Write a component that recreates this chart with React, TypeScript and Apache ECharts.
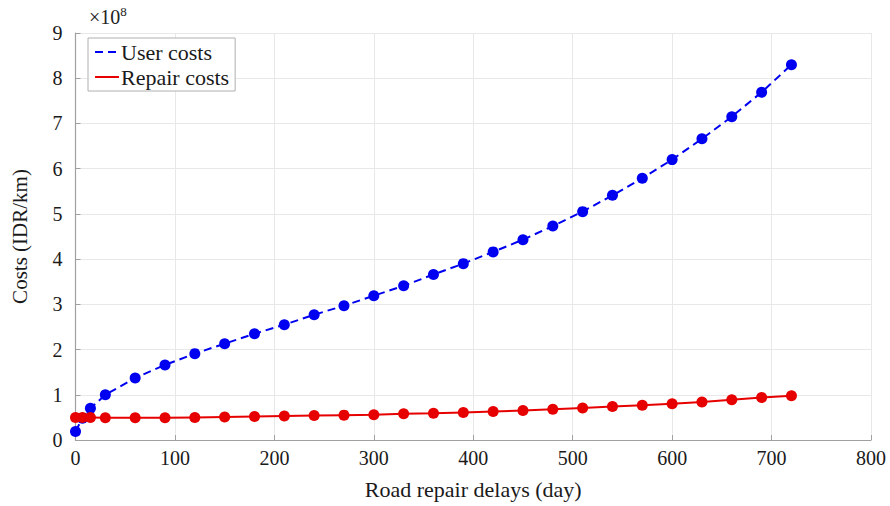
import React, { useEffect, useRef } from "react";
import * as echarts from "echarts";

const delays = [0, 7, 15, 30, 60, 90, 120, 150, 180, 210, 240, 270, 300, 330, 360, 390, 420, 450, 480, 510, 540, 570, 600, 630, 660, 690, 720];
const userCosts = [0.19, 0.48, 0.7, 1.0, 1.37, 1.66, 1.91, 2.13, 2.35, 2.55, 2.77, 2.97, 3.19, 3.41, 3.66, 3.9, 4.16, 4.43, 4.73, 5.05, 5.41, 5.79, 6.2, 6.66, 7.15, 7.69, 8.3];
const repairCosts = [0.5, 0.5, 0.5, 0.49, 0.49, 0.49, 0.5, 0.51, 0.52, 0.53, 0.54, 0.55, 0.56, 0.58, 0.59, 0.61, 0.63, 0.65, 0.68, 0.71, 0.74, 0.77, 0.8, 0.84, 0.89, 0.94, 0.98];
const seriesNames = ["User costs", "Repair costs"];
const xTitle = "Road repair delays (day)";
const yTitle = "Costs (IDR/km)";

const FONT = "Liberation Serif";

export default function App() {
  const ref = useRef<HTMLDivElement>(null);
  useEffect(() => {
    if (!ref.current) return;
    const chart = echarts.init(ref.current, undefined, { renderer: "svg" });
    chart.setOption({
      animation: false,
      backgroundColor: "#ffffff",
      textStyle: { fontFamily: FONT },
      grid: { left: 75.5, right: 19, top: 33, bottom: 66 },
      legend: {
        orient: "vertical",
        left: 88,
        top: 38,
        backgroundColor: "#ffffff",
        borderColor: "#b0b0b0",
        borderWidth: 1,
        borderRadius: 0,
        padding: [2, 6, 2, 6],
        itemGap: 1,
        itemWidth: 24,
        itemHeight: 14,
        itemStyle: { opacity: 0 },
        textStyle: { fontFamily: FONT, fontSize: 22, color: "#1a1a1a", padding: [0, 0, 0, -3], lineHeight: 24 },
        data: seriesNames,
      },
      graphic: [
        {
          type: "text",
          left: 89,
          top: 5,
          style: {
            text: "×10{sup|8}",
            fontFamily: FONT,
            fontSize: 20,
            fill: "#222",
            rich: { sup: { fontSize: 13, verticalAlign: "top", padding: [0, 0, 10, 0], fontFamily: FONT, fill: "#222" } },
          },
        },
      ],
      xAxis: {
        type: "value",
        min: 0,
        max: 800,
        interval: 100,
        name: xTitle,
        nameLocation: "middle",
        nameGap: 38,
        nameTextStyle: { fontFamily: FONT, fontSize: 22, color: "#1a1a1a" },
        axisLine: { onZero: false, lineStyle: { color: "#a0a0a0", width: 1.2 } },
        axisTick: { inside: true, length: 5, lineStyle: { color: "#a0a0a0" } },
        axisLabel: { fontFamily: FONT, fontSize: 20, color: "#1a1a1a", margin: 8 },
        splitLine: { show: true, lineStyle: { color: "#e8e8e8", width: 1 } },
      },
      yAxis: {
        type: "value",
        min: 0,
        max: 9,
        interval: 1,
        name: yTitle,
        nameLocation: "middle",
        nameGap: 45,
        nameTextStyle: { fontFamily: FONT, fontSize: 21, color: "#1a1a1a" },
        axisLine: { show: true, lineStyle: { color: "#a0a0a0", width: 1.2 } },
        axisTick: { show: true, inside: true, length: 5, lineStyle: { color: "#a0a0a0" } },
        axisLabel: { fontFamily: FONT, fontSize: 20, color: "#1a1a1a", margin: 13 },
        splitLine: { show: true, lineStyle: { color: "#e8e8e8", width: 1 } },
      },
      series: [
        {
          name: seriesNames[0],
          type: "line",
          data: delays.map((d, i) => [d, userCosts[i]]),
          symbol: "circle",
          symbolSize: 11,
          color: "#0000f0",
          itemStyle: { color: "#0000f0" },
          lineStyle: { color: "#0000f0", width: 2, type: [8, 5] },
          z: 2,
        },
        {
          name: seriesNames[1],
          type: "line",
          data: delays.map((d, i) => [d, repairCosts[i]]),
          symbol: "circle",
          symbolSize: 11,
          color: "#e60000",
          itemStyle: { color: "#e60000" },
          lineStyle: { color: "#e60000", width: 2 },
          z: 3,
        },
      ],
    });
    return () => chart.dispose();
  }, []);
  return <div ref={ref} style={{ position: "fixed", left: 0, top: 0, width: 890, height: 506 }} />;
}
